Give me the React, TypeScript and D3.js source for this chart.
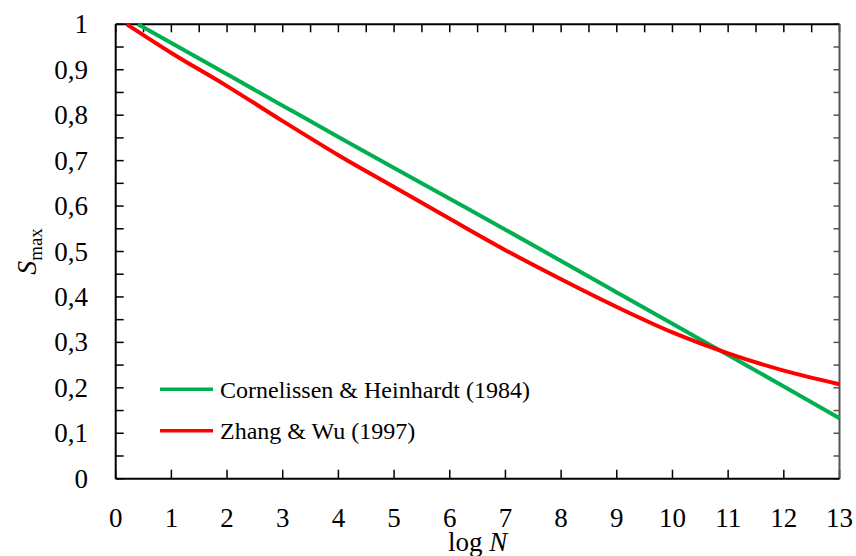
import React from "react";
import * as d3 from "d3";

const seriesNames = ["Cornelissen & Heinhardt (1984)", "Zhang & Wu (1997)"];
const seriesColors = ["#00B050", "#FF0000"];

const greenX = [0.4, 1, 2, 3, 4, 5, 6, 7, 8, 9, 10, 11, 12, 13];
const greenY = [1.0, 0.959, 0.890, 0.821, 0.752, 0.684, 0.616, 0.548, 0.479, 0.410, 0.341, 0.272, 0.203, 0.133];

const redX = [0.2, 1, 2, 3, 4, 5, 6, 7, 8, 9, 10, 11, 12, 13];
const redY = [1.0, 0.937, 0.864, 0.787, 0.712, 0.642, 0.572, 0.503, 0.439, 0.378, 0.322, 0.276, 0.238, 0.208];

const xTicks = [0, 1, 2, 3, 4, 5, 6, 7, 8, 9, 10, 11, 12, 13];
const yTicks = [0, 0.1, 0.2, 0.3, 0.4, 0.5, 0.6, 0.7, 0.8, 0.9, 1];

const W = 856;
const H = 556;
const L = 115.7, R = 839.5, T = 24.3, B = 478.7;

export default function App() {
  const x = d3.scaleLinear().domain([0, 13]).range([L, R]);
  const y = d3.scaleLinear().domain([0, 1]).range([B, T]);
  const line = d3
    .line<[number, number]>()
    .x((d) => x(d[0]))
    .y((d) => y(d[1]))
    .curve(d3.curveMonotoneX);

  const series = [
    greenX.map((v, i) => [v, greenY[i]] as [number, number]),
    redX.map((v, i) => [v, redY[i]] as [number, number]),
  ];

  const minorY = d3.range(0, 1.0001, 0.05);
  const topTicks = d3.range(0, 13.0001, 0.5);
  const font = "'Liberation Serif', 'Times New Roman', serif";
  const fmt = (v: number) => (v === 0 ? "0" : v === 1 ? "1" : v.toFixed(1).replace(".", ","));

  return (
    <svg width={W} height={H} style={{ position: "absolute", left: 0, top: 0, background: "#fff" }}>
      <rect x={0} y={0} width={W} height={H} fill="#fff" />
      {/* ticks */}
      {minorY.map((v, i) => (
        <g key={"yt" + i}>
          <line x1={L} x2={L + 8} y1={y(v)} y2={y(v)} stroke="#000" strokeWidth={1.5} />
          <line x1={R} x2={R - 6} y1={y(v)} y2={y(v)} stroke="#555" strokeWidth={1.5} />
        </g>
      ))}
      {xTicks.map((v, i) => (
        <line key={"xt" + i} x1={x(v)} x2={x(v)} y1={B} y2={B - 9} stroke="#000" strokeWidth={1.5} />
      ))}
      {topTicks.map((v, i) => (
        <line key={"tt" + i} x1={x(v)} x2={x(v)} y1={T} y2={T + 8} stroke="#000" strokeWidth={1.5} />
      ))}
      {/* frame */}
      <line x1={L} x2={R} y1={T} y2={T} stroke="#000" strokeWidth={2} />
      <line x1={R} x2={R} y1={T} y2={B} stroke="#555" strokeWidth={2} />
      <line x1={L} x2={L} y1={T} y2={B} stroke="#000" strokeWidth={2} />
      <line x1={L} x2={R} y1={B} y2={B} stroke="#000" strokeWidth={2} />

      {/* series */}
      {series.map((s, i) => (
        <path key={"s" + i} d={line(s) || ""} fill="none" stroke={seriesColors[i]} strokeWidth={4} />
      ))}

      {/* tick labels */}
      {yTicks.map((v, i) => (
        <text key={"yl" + i} x={88} y={y(v) + 9} textAnchor="end" fontFamily={font} fontSize={27} fill="#000">
          {fmt(v)}
        </text>
      ))}
      {xTicks.map((v, i) => (
        <text key={"xl" + i} x={x(v)} y={527} textAnchor="middle" fontFamily={font} fontSize={27} fill="#000">
          {v}
        </text>
      ))}

      {/* axis titles */}
      <text x={(L + R) / 2} y={551} textAnchor="middle" fontFamily={font} fontSize={27} fill="#000">
        log <tspan fontStyle="italic">N</tspan>
      </text>
      <text
        transform={`translate(36, ${(T + B) / 2}) rotate(-90)`}
        textAnchor="middle"
        fontFamily={font}
        fontSize={28}
        fill="#000"
      >
        <tspan fontStyle="italic">S</tspan>
        <tspan fontSize={19} dy={6}>max</tspan>
      </text>

      {/* legend */}
      {seriesNames.map((n, i) => (
        <g key={"lg" + i}>
          <line x1={160} x2={213} y1={389.3 + i * 41.4} y2={389.3 + i * 41.4} stroke={seriesColors[i]} strokeWidth={3.5} />
          <text x={220} y={397.5 + i * 41.4} fontFamily={font} fontSize={24} fill="#000">
            {n}
          </text>
        </g>
      ))}
    </svg>
  );
}
